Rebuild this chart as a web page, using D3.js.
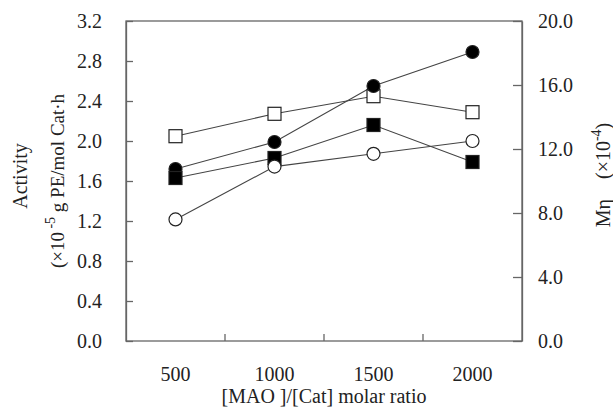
<!DOCTYPE html>
<html>
<head>
<meta charset="utf-8">
<script src="https://cdn.jsdelivr.net/npm/d3@7"></script>
<style>
  body { margin: 0; background: #fff; }
  text { font-family: "Liberation Serif", "DejaVu Serif", serif; fill: #222; }
</style>
</head>
<body>
<svg width="613" height="408"></svg>
<script>
// data
const ratios = ['500', '1000', '1500', '2000'];
const actFilledCircle = [1.72, 1.99, 2.55, 2.89];
const actFilledSquare = [1.63, 1.83, 2.16, 1.79];
const mnOpenSquare = [12.8, 14.2, 15.3, 14.3];
const mnOpenCircle = [7.6, 10.9, 11.7, 12.5];
const leftTicks = [0, 0.4, 0.8, 1.2, 1.6, 2.0, 2.4, 2.8, 3.2];
const rightTicks = [0, 4, 8, 12, 16, 20];

const svg = d3.select('svg');
const plotL = 126, plotR = 522, plotT = 21, plotB = 341;
const fs = 20;

const x = d3.scaleBand().domain(ratios).range([plotL, plotR]);
const yL = d3.scaleLinear().domain([0, 3.2]).range([plotB, plotT]);
const yR = d3.scaleLinear().domain([0, 20]).range([plotB, plotT]);

const axisColor = '#666';

// frame
svg.append('rect')
    .attr('x', plotL).attr('y', plotT)
    .attr('width', plotR - plotL).attr('height', plotB - plotT)
    .attr('fill', 'none').attr('stroke', axisColor).attr('stroke-width', 1.3);

// left axis, ticks pointing inward
const gL = svg.append('g').attr('transform', `translate(${plotL},0)`)
    .call(d3.axisLeft(yL).tickValues(leftTicks).tickFormat(d3.format('.1f'))
        .tickSize(-7).tickSizeOuter(0).tickPadding(24));

// right axis
const gR = svg.append('g').attr('transform', `translate(${plotR},0)`)
    .call(d3.axisRight(yR).tickValues(rightTicks).tickFormat(d3.format('.1f'))
        .tickSize(-9).tickSizeOuter(0).tickPadding(16));

// bottom axis: labels at category centres
const gB = svg.append('g').attr('transform', `translate(0,${plotB})`)
    .call(d3.axisBottom(x).tickSize(0).tickPadding(26));

// bottom ticks between categories
svg.append('g').selectAll('line')
    .data(ratios.slice(1))
    .enter().append('line')
    .attr('x1', d => x(d)).attr('x2', d => x(d))
    .attr('y1', plotB).attr('y2', plotB - 7)
    .attr('stroke', axisColor).attr('stroke-width', 1.3);

[gL, gR, gB].forEach(g => {
    g.select('.domain').attr('stroke', axisColor).attr('stroke-width', 1.3);
    g.selectAll('.tick line').attr('stroke', axisColor).attr('stroke-width', 1.3);
    g.selectAll('.tick text').attr('font-size', fs).attr('fill', '#222')
        .attr('font-family', '"Liberation Serif", serif');
});
gB.select('.domain').attr('stroke', 'none');

// series
const series = [
    {vals: mnOpenSquare, y: yR, shape: 'square', fill: '#fff'},
    {vals: actFilledCircle, y: yL, shape: 'circle', fill: '#000'},
    {vals: actFilledSquare, y: yL, shape: 'square', fill: '#000'},
    {vals: mnOpenCircle, y: yR, shape: 'circle', fill: '#fff'}
];

const cx = d => x(d) + x.bandwidth() / 2;

series.forEach(s => {
    const line = d3.line()
        .x((v, i) => cx(ratios[i]))
        .y(v => s.y(v));
    svg.append('path')
        .datum(s.vals)
        .attr('d', line)
        .attr('fill', 'none')
        .attr('stroke', '#444')
        .attr('stroke-width', 1.1);
});

series.forEach(s => {
    const g = svg.append('g');
    const pts = g.selectAll('.pt').data(s.vals).enter();
    if (s.shape === 'square') {
        pts.append('rect')
            .attr('x', (v, i) => cx(ratios[i]) - 6.5)
            .attr('y', v => s.y(v) - 6.5)
            .attr('width', 13).attr('height', 13)
            .attr('fill', s.fill).attr('stroke', '#222').attr('stroke-width', 1.2);
    } else {
        pts.append('circle')
            .attr('cx', (v, i) => cx(ratios[i]))
            .attr('cy', v => s.y(v))
            .attr('r', 6.5)
            .attr('fill', s.fill).attr('stroke', '#222').attr('stroke-width', 1.2);
    }
});

// axis titles
svg.append('text')
    .attr('transform', `translate(${(plotL + plotR) / 2},403)`)
    .attr('text-anchor', 'middle').attr('font-size', fs)
    .text('[MAO ]/[Cat] molar ratio');

svg.append('text')
    .attr('transform', 'translate(27,176) rotate(-90)')
    .attr('text-anchor', 'middle').attr('font-size', fs)
    .text('Activity');

const t2 = svg.append('text')
    .attr('transform', 'translate(64,181) rotate(-90)')
    .attr('text-anchor', 'middle').attr('font-size', 19);
t2.append('tspan').text('(×10');
t2.append('tspan').attr('dy', -9).attr('font-size', 14).text(' -5');
t2.append('tspan').attr('dy', 9).text(' g PE/mol Cat·h');

const t3 = svg.append('text')
    .attr('transform', 'translate(610,175) rotate(-90)')
    .attr('text-anchor', 'middle').attr('font-size', fs);
t3.append('tspan').text('Mη\u2002\u2002(×10');
t3.append('tspan').attr('dy', -9).attr('font-size', 14).text('-4');
t3.append('tspan').attr('dy', 9).text(')');
</script>
</body>
</html>
